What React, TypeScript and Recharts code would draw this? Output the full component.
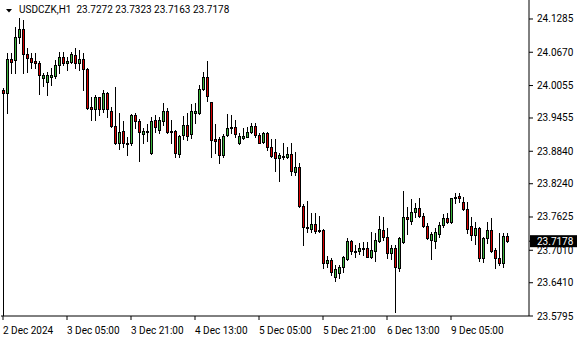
import { Bar, ComposedChart, XAxis, YAxis } from 'recharts';

// H1 bars, USDCZK
const OPEN = [
  23.9972, 23.9911, 24.054, 24.0518, 24.0947, 24.1094, 24.0632, 24.0558, 24.0508, 24.0477,
  24.02, 24.0126, 24.0218, 24.0237, 24.0435, 24.0577, 24.0477, 24.0496, 24.0619, 24.0466,
  24.054, 24.0355, 23.9658, 23.963, 23.9837, 23.9616, 23.9911, 23.9584, 23.9307, 23.8987,
  23.9215, 23.8993, 23.8987, 23.951, 23.9399, 23.9159, 23.9215, 23.8802, 23.9418, 23.9239,
  23.9394, 23.9584, 23.9215, 23.9215, 23.8795, 23.9141, 23.9325, 23.9159, 23.9553, 23.9553,
  23.9985, 24.0207, 23.9745, 23.9061, 23.9061, 23.8762, 23.9141, 23.9261, 23.9283, 23.8987,
  23.908, 23.9109, 23.9202, 23.9307, 23.9141, 23.9017, 23.9172, 23.8913, 23.8821, 23.871,
  23.8728, 23.8728, 23.8789, 23.8462, 23.8544, 23.7828, 23.7445, 23.7409, 23.749, 23.7384,
  23.7384, 23.6769, 23.683, 23.651, 23.6595, 23.6706, 23.6843, 23.7181, 23.7002, 23.7002,
  23.7033, 23.7052, 23.6891, 23.7002, 23.7187, 23.7384, 23.725, 23.6954, 23.7046, 23.6682,
  23.7168, 23.7619, 23.7556, 23.7723, 23.7786, 23.7643, 23.7464, 23.72, 23.7187, 23.7305,
  23.7477, 23.7601, 23.7538, 23.797, 23.8019, 23.7897, 23.7767, 23.7458, 23.7292, 23.7416,
  23.6872, 23.7231, 23.7384, 23.7015, 23.6861, 23.6769, 23.7272,
];
const HIGH = [
  24.0009, 24.0651, 24.0651, 24.1143, 24.1298, 24.1266, 24.0743, 24.0651, 24.0651, 24.0508,
  24.0281, 24.0311, 24.0379, 24.0527, 24.068, 24.068, 24.0588, 24.068, 24.0743, 24.0712,
  24.0651, 24.0374, 23.9843, 23.988, 23.9849, 23.9972, 23.9935, 23.9658, 24.0028, 23.9547,
  23.9399, 23.9104, 23.9529, 23.9556, 23.9431, 23.9264, 23.9344, 23.9479, 23.951, 23.9479,
  23.9723, 23.9634, 23.9418, 23.9233, 23.9141, 23.9492, 23.9542, 23.9714, 23.9727, 24.0065,
  24.0311, 24.0508, 23.9756, 23.9344, 23.9109, 23.9159, 23.952, 23.951, 23.9418, 23.9172,
  23.927, 23.9283, 23.9357, 23.9368, 23.9172, 23.9202, 23.9202, 23.9061, 23.9061, 23.8813,
  23.8993, 23.8913, 23.8987, 23.8826, 23.8617, 23.7856, 23.7926, 23.7693, 23.7693, 23.7643,
  23.7397, 23.6904, 23.6861, 23.6738, 23.6738, 23.6904, 23.7231, 23.72, 23.7107, 23.7139,
  23.7168, 23.7168, 23.7353, 23.7335, 23.7643, 23.763, 23.7416, 23.7107, 23.7107, 23.7261,
  23.8105, 23.7815, 23.7952, 23.7878, 23.797, 23.7693, 23.7508, 23.7353, 23.7416, 23.7538,
  23.7675, 23.7693, 23.7982, 23.8074, 23.8063, 23.8, 23.7908, 23.763, 23.7538, 23.7445,
  23.7261, 23.7527, 23.7601, 23.7046, 23.7323, 23.7323, 23.7323,
];
const LOW = [
  23.5795, 23.9553, 24.0281, 24.0281, 24.0836, 24.0281, 24.0305, 24.0374, 24.0374, 23.9898,
  24.0046, 23.9886, 24.0065, 24.0189, 24.0281, 24.0435, 24.0342, 24.0466, 24.0374, 24.0342,
  23.9972, 23.9616, 23.9418, 23.9418, 23.951, 23.9571, 23.9479, 23.9288, 23.8974, 23.8876,
  23.8919, 23.878, 23.8965, 23.9279, 23.8666, 23.8998, 23.903, 23.8789, 23.9202, 23.9183,
  23.9325, 23.9172, 23.8993, 23.8725, 23.8725, 23.9067, 23.9048, 23.908, 23.9357, 23.9529,
  23.9972, 23.9775, 23.8739, 23.8808, 23.8629, 23.8739, 23.9122, 23.9172, 23.9098, 23.8974,
  23.9067, 23.9098, 23.9172, 23.9098, 23.8987, 23.8998, 23.8863, 23.8728, 23.8481, 23.8296,
  23.8706, 23.871, 23.8401, 23.8401, 23.7804, 23.7107, 23.7348, 23.7353, 23.7335, 23.7353,
  23.6688, 23.6695, 23.6553, 23.6447, 23.6503, 23.6614, 23.683, 23.6941, 23.6891, 23.6941,
  23.6922, 23.6885, 23.6861, 23.6817, 23.7168, 23.72, 23.6861, 23.6843, 23.5874, 23.6632,
  23.715, 23.7305, 23.7495, 23.763, 23.763, 23.7445, 23.7212, 23.6848, 23.7046, 23.7261,
  23.7445, 23.7519, 23.7519, 23.7889, 23.7908, 23.7754, 23.7323, 23.72, 23.7126, 23.6811,
  23.6798, 23.7139, 23.6983, 23.6676, 23.6738, 23.6706, 23.7163,
];
const CLOSE = [
  23.9922, 24.054, 24.0484, 24.0947, 24.1094, 24.0632, 24.0558, 24.0484, 24.0477, 24.025,
  24.025, 24.0244, 24.025, 24.0435, 24.0577, 24.0477, 24.0508, 24.0638, 24.0466, 24.054,
  24.0355, 23.964, 23.963, 23.9837, 23.9612, 23.9911, 23.9612, 23.9307, 23.8987, 23.9202,
  23.8987, 23.8974, 23.951, 23.9399, 23.919, 23.9215, 23.919, 23.9399, 23.9288, 23.9418,
  23.9584, 23.9202, 23.9196, 23.8802, 23.9122, 23.9325, 23.9131, 23.9584, 23.9584, 23.9985,
  24.0207, 23.9867, 23.9048, 23.9035, 23.8762, 23.9122, 23.9264, 23.9288, 23.9159, 23.9131,
  23.9122, 23.9202, 23.9307, 23.9141, 23.8998, 23.9172, 23.8913, 23.8758, 23.871, 23.8771,
  23.8758, 23.8789, 23.8481, 23.8544, 23.7828, 23.744, 23.7416, 23.749, 23.7372, 23.7366,
  23.6769, 23.683, 23.6614, 23.6658, 23.6695, 23.688, 23.7181, 23.7002, 23.6978, 23.7046,
  23.7052, 23.6891, 23.7015, 23.72, 23.7403, 23.725, 23.6954, 23.7046, 23.6706, 23.7231,
  23.7619, 23.7582, 23.7723, 23.7786, 23.7649, 23.7464, 23.7231, 23.7311, 23.7342, 23.7477,
  23.7601, 23.7538, 23.797, 23.8, 23.797, 23.7767, 23.7397, 23.7292, 23.7416, 23.6872,
  23.7231, 23.7384, 23.7002, 23.6861, 23.6769, 23.7274, 23.7178,
];

const PRICE_TICKS = [
  24.1285, 24.067, 24.0055, 23.9455, 23.884, 23.824, 23.7625, 23.701, 23.641, 23.5795,
];
const LAST_PRICE = 23.7178;
const TIME_TICKS = [0, 16, 32, 48, 64, 80, 96, 112];
const TIME_LABELS = [
  '2 Dec 2024',
  '3 Dec 05:00',
  '3 Dec 21:00',
  '4 Dec 13:00',
  '5 Dec 05:00',
  '5 Dec 21:00',
  '6 Dec 13:00',
  '9 Dec 05:00',
];
const SYMBOL = 'USDCZK,H1';
const SHIFT_BARS = 5; // empty space right of the last bar

const Y_MIN = 23.5795;
const Y_MAX = 24.1636;
const FONT = 'Roboto, "Liberation Sans", sans-serif';
const BULL = '#3cb43c';
const BEAR = '#d80000';

const data = [
  ...OPEN.map((open, i) => ({
    i,
    open,
    high: HIGH[i],
    low: LOW[i],
    close: CLOSE[i],
  })),
  ...Array.from({ length: SHIFT_BARS }, (_, k) => ({ i: OPEN.length + k })),
];

function Candle(props: any) {
  const { x, y, width, height, payload } = props;
  if (payload == null || payload.open == null) return null;
  const { open, high, low, close } = payload;
  const k = height / (high - low);
  const py = (v: number) => y + (high - v) * k;
  const cx = Math.round(x + width / 2);
  const top = Math.round(Math.min(py(open), py(close)));
  const bottom = Math.round(Math.max(py(open), py(close)));
  const fill = close >= open ? BULL : BEAR;
  return (
    <g>
      <line
        x1={cx + 0.5}
        x2={cx + 0.5}
        y1={Math.round(py(high))}
        y2={Math.round(py(low)) + 1}
        stroke="#000"
        strokeWidth={1}
      />
      <rect
        x={cx - 0.5}
        y={top + 0.5}
        width={2}
        height={Math.max(bottom - top, 1)}
        fill={fill}
        stroke="#000"
        strokeWidth={1}
      />
    </g>
  );
}

function TimeTick(props: any) {
  const { x, payload } = props;
  const idx = TIME_TICKS.indexOf(payload.value);
  return (
    <text x={x} y={334} fontSize={10} fontFamily={FONT} fill="#000" textAnchor="start">
      {TIME_LABELS[idx]}
    </text>
  );
}

function PriceTick(props: any) {
  const { x, y, payload } = props;
  const v = payload.value as number;
  const isLast = Math.abs(v - LAST_PRICE) < 1e-6;
  return (
    <g>
      {isLast && <rect x={530} y={y - 6} width={47} height={12} fill="#000" />}
      <text
        x={x}
        y={y + 3.5}
        fontSize={10}
        fontFamily={FONT}
        fill={isLast ? '#fff' : '#000'}
        textAnchor="start"
      >
        {v.toFixed(4)}
      </text>
    </g>
  );
}

export default function App() {
  return (
    <div
      style={{
        position: 'absolute',
        left: 0,
        top: 0,
        width: 580,
        height: 340,
        background: '#fff',
      }}
    >
      <ComposedChart
        width={580}
        height={340}
        data={data}
        margin={{ top: 0, right: 0, bottom: 0, left: 1 }}
        barCategoryGap="10%"
      >
        <XAxis
          dataKey="i"
          type="category"
          ticks={TIME_TICKS}
          interval={0}
          height={24}
          tickSize={4}
          axisLine={{ stroke: '#000' }}
          tickLine={{ stroke: '#000' }}
          tick={<TimeTick />}
        />
        <YAxis
          orientation="right"
          type="number"
          domain={[Y_MIN, Y_MAX]}
          allowDataOverflow
          ticks={[...PRICE_TICKS, LAST_PRICE]}
          interval={0}
          width={51}
          tickSize={4}
          tickMargin={4}
          axisLine={{ stroke: '#000' }}
          tickLine={{ stroke: '#000' }}
          tick={<PriceTick />}
        />
        <Bar
          dataKey={(d: any) => (d.open == null ? null : [d.low, d.high])}
          shape={<Candle />}
          isAnimationActive={false}
        />
      </ComposedChart>

      {/* MT4-style header: symbol and OHLC of the last bar */}
      <svg
        width={14}
        height={14}
        style={{ position: 'absolute', left: 0, top: 4 }}
      >
        <polygon points="6,5 12,5 9,8.5" fill="#000" />
      </svg>
      <div
        style={{
          position: 'absolute',
          left: 19,
          top: 4,
          fontFamily: FONT,
          fontSize: 10,
          lineHeight: '12px',
          color: '#000',
          whiteSpace: 'pre',
        }}
      >
        {`${SYMBOL}  ${OPEN[OPEN.length - 1].toFixed(4)} ${HIGH[HIGH.length - 1].toFixed(4)} ${LOW[LOW.length - 1].toFixed(4)} ${CLOSE[CLOSE.length - 1].toFixed(4)}`}
      </div>
    </div>
  );
}
